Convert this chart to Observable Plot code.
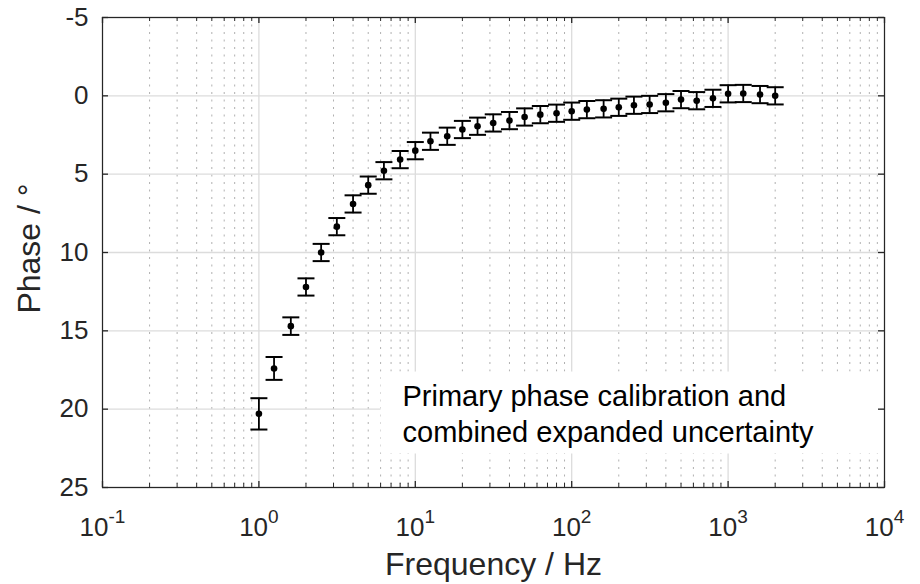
<!DOCTYPE html>
<html>
<head>
<meta charset="utf-8">
<script src="https://cdn.jsdelivr.net/npm/d3@7"></script>
<script src="https://cdn.jsdelivr.net/npm/@observablehq/plot@0.6"></script>
<style>
  html, body { margin: 0; padding: 0; background: #fff; }
  #chart { width: 920px; height: 584px; }
</style>
</head>
<body>
<div id="chart"></div>
<script>
// ---- data ----
const freqs = [1, 1.25, 1.6, 2, 2.5, 3.15, 4, 5, 6.3, 8,
               10, 12.5, 16, 20, 25, 31.5, 40, 50, 63, 80,
               100, 125, 160, 200, 250, 315, 400, 500, 630, 800,
               1000, 1250, 1600, 2000];
const phase = [20.3, 17.4, 14.7, 12.2, 10.0, 8.35, 6.9, 5.7, 4.78, 4.07,
               3.5, 2.9, 2.58, 2.15, 1.94, 1.73, 1.58, 1.35, 1.2, 1.11,
               0.98, 0.88, 0.83, 0.73, 0.6, 0.55, 0.44, 0.24, 0.31, 0.16,
               -0.13, -0.15, -0.08, 0.0];
const uncert = [1.0, 0.73, 0.56, 0.55, 0.55, 0.55, 0.55, 0.55, 0.55, 0.55,
                0.55, 0.55, 0.55, 0.55, 0.55, 0.55, 0.55, 0.55, 0.55, 0.55,
                0.55, 0.55, 0.55, 0.55, 0.55, 0.55, 0.55, 0.55, 0.55, 0.55,
                0.55, 0.55, 0.55, 0.55];
const xMajorTicks = [0.1, 1, 10, 100, 1000, 10000];
const xMinorTicks = [0.2,0.3,0.4,0.5,0.6,0.7,0.8,0.9,
                     2,3,4,5,6,7,8,9,
                     20,30,40,50,60,70,80,90,
                     200,300,400,500,600,700,800,900,
                     2000,3000,4000,5000,6000,7000,8000,9000];
const yTicks = [-5, 0, 5, 10, 15, 20, 25];
const xLabel = "Frequency / Hz";
const yLabel = "Phase / \u00B0";
const annotation = "Primary phase calibration and\ncombined expanded uncertainty";

const data = freqs.map((f, i) => ({f, p: phase[i], lo: phase[i] - uncert[i], hi: phase[i] + uncert[i]}));

const capSymbol = {
  draw(context) { context.moveTo(-8.5, 0); context.lineTo(8.5, 0); }
};

const W = 920, H = 584;
const mL = 102, mR = 36, mT = 17, mB = 97;
const frameW = W - mL - mR, frameH = H - mT - mB;
const tickLen = 6, minorLen = 4;
const axisColor = "#262626";

const svg = Plot.plot({
  width: W, height: H,
  marginLeft: mL, marginRight: mR, marginTop: mT, marginBottom: mB,
  style: {fontFamily: "'Liberation Sans', Arial, Helvetica, sans-serif", background: "#fff", color: axisColor, overflow: "visible"},
  x: {type: "log", domain: [0.1, 10000], axis: null},
  y: {domain: [-5, 25], reverse: true, axis: null},
  marks: [
    // grid
    Plot.ruleX(xMinorTicks, {stroke: "#b0b0b0", strokeWidth: 1, strokeDasharray: "2,5.5"}),
    Plot.ruleX(xMajorTicks, {stroke: "#dcdcdc", strokeWidth: 1.3}),
    Plot.ruleY(yTicks, {stroke: "#dcdcdc", strokeWidth: 1.3}),
    // annotation (drawn above the grid; white box added below)
    Plot.text([annotation], {frameAnchor: "bottom-left", dx: 300, dy: -46, textAnchor: "start",
      lineAnchor: "bottom", lineHeight: 1.24, fontSize: 29, fill: "#000"}),
    // inward tick marks
    Plot.ruleX(xMajorTicks, {stroke: axisColor, strokeWidth: 1.3, insetTop: frameH - tickLen}),
    Plot.ruleX(xMajorTicks, {stroke: axisColor, strokeWidth: 1.3, insetBottom: frameH - tickLen}),
    Plot.ruleX(xMinorTicks, {stroke: axisColor, strokeWidth: 1, insetTop: frameH - minorLen}),
    Plot.ruleX(xMinorTicks, {stroke: axisColor, strokeWidth: 1, insetBottom: frameH - minorLen}),
    Plot.ruleY(yTicks, {stroke: axisColor, strokeWidth: 1.3, insetRight: frameW - tickLen}),
    Plot.ruleY(yTicks, {stroke: axisColor, strokeWidth: 1.3, insetLeft: frameW - tickLen}),
    Plot.frame({stroke: axisColor, strokeWidth: 1.2}),
    // tick labels (through the scales)
    Plot.text(xMajorTicks, {x: d => d, frameAnchor: "bottom", dy: 30, lineAnchor: "top",
      text: d => "10^" + Math.round(Math.log10(d)), fontSize: 26, fill: axisColor}),
    Plot.text(yTicks, {y: d => d, frameAnchor: "left", dx: -14, textAnchor: "end",
      text: d => String(d), fontSize: 26, fill: axisColor}),
    Plot.text([xLabel], {frameAnchor: "bottom", dy: 87, fontSize: 32, lineAnchor: "bottom", fill: axisColor}),
    Plot.text([yLabel], {frameAnchor: "left", dx: -63, dy: -4, rotate: -90, textAnchor: "middle",
      fontSize: 32, lineAnchor: "bottom", fill: axisColor}),
    // error bars
    Plot.ruleX(data, {x: "f", y1: "lo", y2: "hi", stroke: "#000", strokeWidth: 1.8}),
    Plot.dot(data, {x: "f", y: "lo", symbol: capSymbol, fill: "none", stroke: "#000", strokeWidth: 2}),
    Plot.dot(data, {x: "f", y: "hi", symbol: capSymbol, fill: "none", stroke: "#000", strokeWidth: 2}),
    Plot.dot(data, {x: "f", y: "p", r: 3.3, fill: "#000", stroke: "none"})
  ]
});

document.getElementById("chart").appendChild(svg);

// superscript exponents on the x tick labels
d3.select(svg).selectAll("text").each(function() {
  if (this.childElementCount) return;
  const m = (this.textContent || "").match(/^10\^(-?\d+)$/);
  if (!m) return;
  const sel = d3.select(this);
  sel.text("");
  sel.append("tspan").text("10");
  sel.append("tspan").attr("dy", -13).attr("font-size", 19).text(m[1]);
});

// white box behind the annotation
const annText = Array.from(svg.querySelectorAll("text")).find(t => (t.textContent || "").startsWith("Primary"));
if (annText) {
  const bb = annText.getBBox();
  const ctm = annText.getCTM();
  const svgCtm = svg.getCTM ? svg.getCTM() : null;
  const pt = svg.createSVGPoint();
  pt.x = bb.x; pt.y = bb.y;
  const m = svgCtm ? svgCtm.inverse().multiply(ctm) : ctm;
  const p = pt.matrixTransform(m);
  const rect = document.createElementNS("http://www.w3.org/2000/svg", "rect");
  const x0 = p.x - 22;
  rect.setAttribute("x", x0);
  rect.setAttribute("y", p.y - 8);
  rect.setAttribute("width", (W - mR - 4) - x0);
  rect.setAttribute("height", bb.height + 14);
  rect.setAttribute("fill", "#fff");
  const g = annText.parentNode;
  g.parentNode.insertBefore(rect, g);
}
</script>
</body>
</html>
